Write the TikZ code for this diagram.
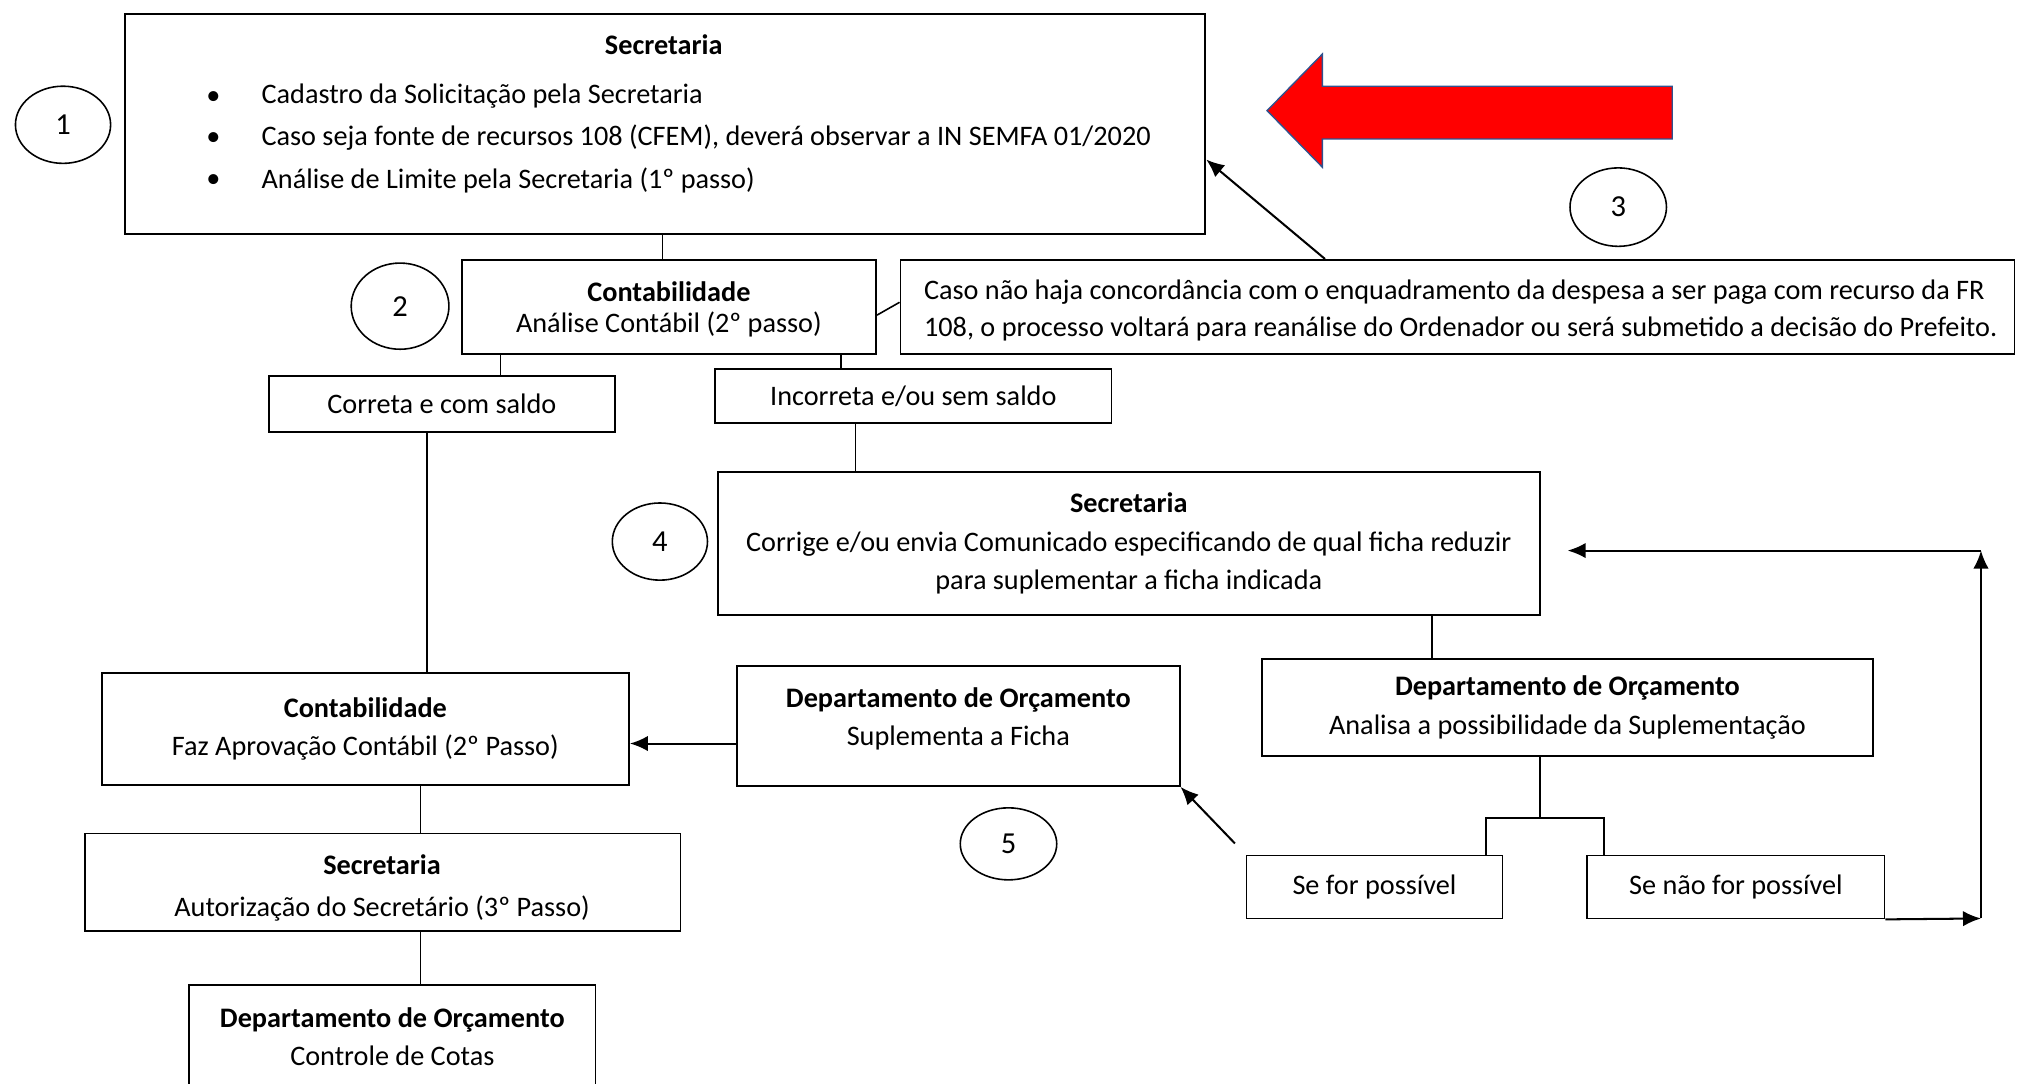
\documentclass[tikz,border=0pt]{standalone}
\usepackage{fontspec}
\setmainfont{Carlito}
\usetikzlibrary{shapes.geometric,arrows.meta}
\newcommand\fs{\fontsize{12.5}{17}\selectfont}
% box given by its corners (in picture units)
\newcommand\pbox[7][]{%
  \pgfmathsetmacro\pbX{(#3+#5)/2}%
  \pgfmathsetmacro\pbY{(#4+#6)/2}%
  \pgfmathsetmacro\pbW{(#5-#3)*0.02}%
  \pgfmathsetmacro\pbH{(#6-#4)*0.02}%
  \node[box, minimum width=\pbW cm, minimum height=\pbH cm, #1] (#2) at (\pbX,\pbY) {#7};}
\begin{document}
\begin{tikzpicture}[x=0.02cm,y=-0.02cm,
  box/.style={draw, line width=0.8pt, inner sep=0pt, align=center, font=\fs},
  num/.style={draw, ellipse, line width=0.7pt, inner sep=0pt, font=\fontsize{13.5}{15}\selectfont},
  txt/.style={inner sep=0pt, font=\fs},
  conn/.style={line width=0.7pt},
  arr/.style={line width=0.9pt, -{Latex[length=2.8mm,width=2.4mm]}}]
\useasboundingbox (0,0) rectangle (1568,842);

% --- Step 1: registration at the Secretaria
\pbox{b1}{97}{11}{937}{182}{}
\node[txt, font=\fs\bfseries] (b1t) at (516,35) {Secretaria};
\node[txt, anchor=west] (b1d1) at (160,76) {\textbullet};
\node[txt, anchor=west] (b1d2) at (160,108) {\textbullet};
\node[txt, anchor=west] (b1d3) at (160,141) {\textbullet};
\node[txt, anchor=west] (b1l1) at (203,75) {Cadastro da Solicitação pela Secretaria};
\node[txt, anchor=west] (b1l2) at (203,107) {Caso seja fonte de recursos 108 (CFEM), deverá observar a IN SEMFA 01/2020};
\node[txt, anchor=west] (b1l3) at (203,140) {Análise de Limite pela Secretaria (1º passo)};
\node[num, minimum width=1.48cm, minimum height=1.2cm] (n1) at (49,97) {1};

% big red arrow
\draw[line width=0.6pt, draw={rgb,255:red,47;green,82;blue,143}, fill=red]
  (985,86) -- (1028,42) -- (1028,67) -- (1300,67) -- (1300,108) -- (1028,108) -- (1028,130) -- cycle;
\node[num, minimum width=1.5cm, minimum height=1.22cm] (n3) at (1258,161) {3};

% --- Step 2: accounting analysis
\pbox{cont1}{359}{202}{681}{275}{}
\node[txt, font=\fs\bfseries] (cont1t) at (520,227) {Contabilidade};
\node[txt] (cont1l) at (520,252) {Análise Contábil (2º passo)};
\node[num, minimum width=1.52cm, minimum height=1.34cm] (n2) at (311,238) {2};
\pbox{note}{700}{202}{1566}{275}{}
\node[txt, anchor=west] (notel1) at (718,227) {Caso não haja concordância com o enquadramento da despesa a ser paga com recurso da FR};
\node[txt, anchor=west] (notel2) at (718,256) {108, o processo voltará para reanálise do Ordenador ou será submetido a decisão do Prefeito.};

\pbox{correta}{209}{292}{478}{336}{Correta e com saldo}
\pbox{incor}{556}{287}{864}{329}{Incorreta e/ou sem saldo}

% --- Step 4: correction by the Secretaria
\pbox{sec4}{558}{367}{1197}{478}{\textbf{Secretaria}\\Corrige e/ou envia Comunicado especificando de qual ficha reduzir\\para suplementar a ficha indicada}
\node[num, minimum width=1.48cm, minimum height=1.2cm] (n4) at (513,421) {4};

\pbox{anal}{981}{512}{1456}{588}{\textbf{Departamento de Orçamento}\\Analisa a possibilidade da Suplementação}
\pbox{sefor}{969}{665}{1168}{714}{Se for possível}
\pbox{senao}{1234}{665}{1465}{714}{Se não for possível}

% --- Step 5: supplementation
\pbox{supl}{573}{518}{917}{611}{}
\node[txt, font=\fs\bfseries] (suplt) at (745,544) {Departamento de Orçamento};
\node[txt] (supll) at (745,574) {Suplementa a Ficha};
\node[num, minimum width=1.5cm, minimum height=1.12cm] (n5) at (784,656) {5};

% --- Approval chain
\pbox{cont2}{79}{523}{489}{610}{\textbf{Contabilidade}\\Faz Aprovação Contábil (2º Passo)}
\pbox{sec3}{66}{648}{529}{724}{}
\node[txt, font=\fs\bfseries] (sec3t) at (297,672) {Secretaria};
\node[txt] (sec3l) at (297,706) {Autorização do Secretário (3º Passo)};
\pbox{fin}{147}{766}{463}{846}{\textbf{Departamento de Orçamento}\\Controle de Cotas}

% --- connectors
\draw[conn] (b1.south -| 515,0) -- (cont1.north -| 515,0);
\draw[conn] (cont1.east |- 0,245) -- (note.west |- 0,235);
\draw[arr] (note.north -| 1030,0) -- (b1.east |- 0,124);
\draw[conn] (cont1.south -| 389,0) -- (correta.north -| 389,0);
\draw[conn] (cont1.south -| 654,0) -- (incor.north -| 654,0);
\draw[conn] (incor.south -| 665,0) -- (sec4.north -| 665,0);
\draw[conn] (correta.south -| 332,0) -- (cont2.north -| 332,0);
\draw[conn] (sec4.south -| 1113,0) -- (anal.north -| 1113,0);

\coordinate (br) at (1197,636);
\draw[conn] (anal.south -| br) -- (br);
\draw[conn] (sefor.north -| 1155,0) |- (br) -| (senao.north -| 1247,0);

\coordinate (rb) at (1540,714);
\coordinate (rt) at (1540,428);
\draw[arr] (senao.south east) -- (rb);
\draw[arr] (rb) -- (rt);
\draw[arr, shorten >=0.42cm] (rt) -- (sec4.east |- rt);

\draw[arr, shorten <=0.24cm] (sefor.north west) -- (supl.south east);
\draw[arr] (supl.west |- 0,578) -- (cont2.east |- 0,578);
\draw[conn] (cont2.south -| 327,0) -- (sec3.north -| 327,0);
\draw[conn] (sec3.south -| 327,0) -- (fin.north -| 327,0);
\end{tikzpicture}
\end{document}
